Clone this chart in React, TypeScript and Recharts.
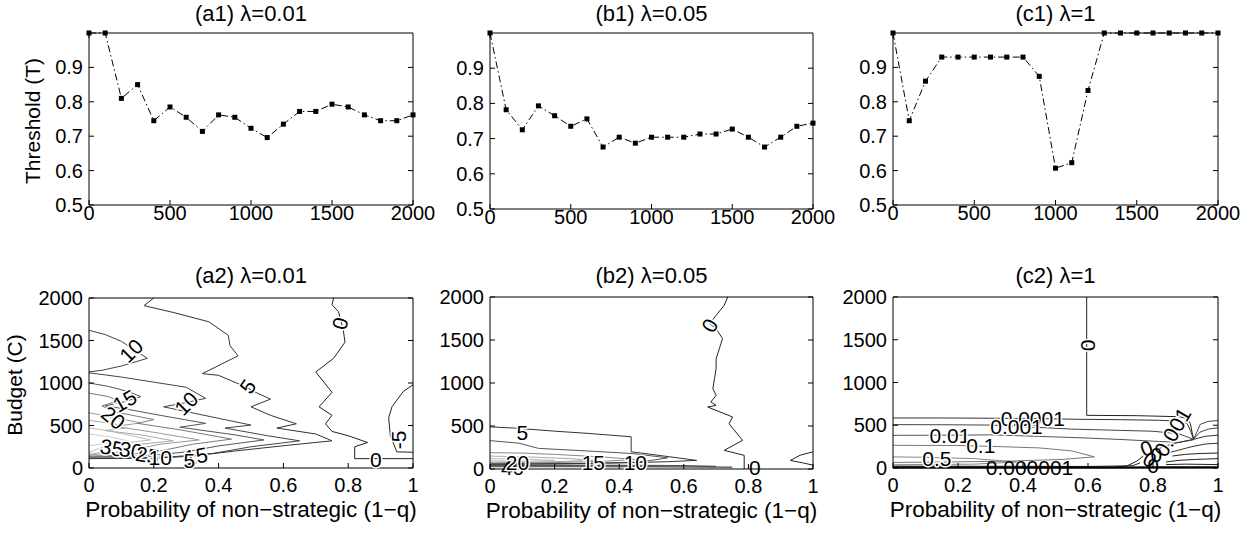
import React from 'react';
import { LineChart, ComposedChart, Line, Scatter, XAxis, YAxis } from 'recharts';

const FONT = '"Liberation Sans", Arial, Helvetica, sans-serif';
const TICK_FS = 20;

// ---------------- data ----------------
const BUDGET = [0, 100, 200, 300, 400, 500, 600, 700, 800, 900, 1000, 1100, 1200, 1300, 1400, 1500, 1600, 1700, 1800, 1900, 2000];
const THRESH_A1 = [1.0, 1.0, 0.81, 0.85, 0.745, 0.785, 0.755, 0.714, 0.762, 0.755, 0.723, 0.696, 0.735, 0.772, 0.772, 0.793, 0.785, 0.762, 0.745, 0.745, 0.762];
const THRESH_B1 = [1.0, 0.782, 0.725, 0.793, 0.765, 0.735, 0.756, 0.676, 0.704, 0.687, 0.704, 0.704, 0.704, 0.713, 0.713, 0.727, 0.704, 0.676, 0.704, 0.735, 0.744];
const THRESH_C1 = [1.0, 0.745, 0.86, 0.93, 0.93, 0.93, 0.93, 0.93, 0.93, 0.874, 0.607, 0.623, 0.833, 1.0, 1.0, 1.0, 1.0, 1.0, 1.0, 1.0, 1.0];

const BUDGET_TICKS = [0, 500, 1000, 1500, 2000];
const THRESH_TICKS = [0.5, 0.6, 0.7, 0.8, 0.9];
const Q_TICKS = [0, 0.2, 0.4, 0.6, 0.8, 1];

const X_LABEL = 'Probability of non\u2212strategic (1\u2212q)';

// contour lines of panel (a2): [q, budget]
const A2_L0 = [[0.755, 2000], [0.75, 1920], [0.77, 1840], [0.785, 1620], [0.79, 1480], [0.755, 1290], [0.70, 1130], [0.725, 1010], [0.75, 890], [0.71, 720], [0.75, 620], [0.73, 520], [0.75, 430], [0.80, 380], [0.86, 300], [0.82, 250], [0.82, 110], [1.0, 110]];
const A2_LM5 = [[1.0, 980], [0.97, 900], [0.935, 720], [0.925, 590], [0.93, 380], [0.95, 190], [1.0, 185]];
const A2_L5 = [[0.2, 2000], [0.17, 1910], [0.26, 1830], [0.37, 1720], [0.43, 1560], [0.435, 1440], [0.46, 1320], [0.35, 1110], [0.40, 1090], [0.48, 960], [0.52, 880], [0.56, 810], [0.50, 720], [0.56, 620], [0.64, 520], [0.58, 470], [0.70, 400], [0.75, 320], [0.62, 270], [0.45, 200], [0.32, 140], [0.2, 115], [0, 110]];
const A2_L10A = [[0, 1620], [0.05, 1570], [0.1, 1490], [0.14, 1390], [0.18, 1290], [0.1, 1200], [0.04, 1150], [0, 1130]];
const A2_L10B = [[0, 1120], [0.1, 1070], [0.2, 1010], [0.3, 950], [0.36, 820], [0.3, 770], [0.23, 720], [0.33, 640], [0.5, 505], [0.42, 470], [0.55, 380], [0.65, 320], [0.5, 250], [0.38, 170], [0.25, 130], [0.1, 120], [0, 118]];
const A2_L15 = [[0, 1000], [0.06, 960], [0.12, 900], [0.16, 840], [0.11, 780], [0.05, 730], [0.12, 690], [0.22, 620], [0.36, 525], [0.28, 480], [0.45, 390], [0.54, 330], [0.4, 260], [0.3, 190], [0.2, 150], [0.1, 135], [0, 130]];
const A2_L20 = [[0, 880], [0.06, 840], [0.09, 790], [0.04, 730], [0.08, 660], [0.2, 570], [0.15, 525], [0.28, 450], [0.44, 340], [0.32, 280], [0.22, 200], [0.1, 150], [0, 140]];
const A2_L25 = [[0, 650], [0.07, 600], [0.16, 530], [0.08, 490], [0.2, 420], [0.34, 330], [0.22, 280], [0.12, 200], [0, 150]];
const A2_L30 = [[0, 560], [0.08, 520], [0.11, 470], [0.05, 440], [0.16, 390], [0.26, 320], [0.16, 280], [0.06, 200], [0, 160]];
const A2_L35 = [[0, 470], [0.05, 445], [0.12, 390], [0.19, 330], [0.1, 290], [0.03, 230], [0, 180]];
const A2_L40 = [[0, 400], [0.06, 370], [0.12, 320], [0.05, 290], [0, 260]];
const A2_LABELS = [
  { x: 0.775, y: 1700, t: '0', r: -75, h: 1 },
  { x: 0.885, y: 105, t: '0', r: 0, h: 1 },
  { x: 0.955, y: 330, t: '-5', r: -90, h: 1 },
  { x: 0.49, y: 960, t: '5', r: -55, h: 1 },
  { x: 0.13, y: 1380, t: '10', r: -45, h: 1 },
  { x: 0.30, y: 760, t: '10', r: -45, h: 1 },
  { x: 0.11, y: 790, t: '15', r: -30, h: 1 },
  { x: 0.075, y: 590, t: '20', r: 40, h: 1 },
  { x: 0.07, y: 240, t: '35', r: 10, h: 1 },
  { x: 0.13, y: 210, t: '30', r: 10, h: 1 },
  { x: 0.18, y: 150, t: '25', r: 10, h: 1 },
  { x: 0.22, y: 125, t: '10', r: 0, h: 1 },
  { x: 0.33, y: 140, t: '15', r: -10, h: 1 },
  { x: 0.31, y: 90, t: '5', r: 0, h: 1 },
];

// contour lines of panel (b2)
const B2_L0 = [[0.736, 2000], [0.725, 1903], [0.70, 1787], [0.68, 1690], [0.70, 1632], [0.72, 1516], [0.71, 1399], [0.70, 1283], [0.70, 1167], [0.695, 1050], [0.69, 934], [0.70, 857], [0.684, 779], [0.70, 740], [0.674, 721], [0.751, 605], [0.74, 527], [0.782, 333], [0.725, 217], [0.787, 159], [0.787, 0]];
const B2_L0B = [[1.0, 200], [0.96, 160], [0.93, 100], [0.97, 70], [1.0, 45]];
const B2_L5 = [[0, 490], [0.08, 475], [0.2, 440], [0.3, 415], [0.437, 375], [0.437, 200], [0.5, 170], [0.58, 130], [0.64, 100], [0.55, 85], [0.4, 70], [0.2, 60], [0, 55]];
const B2_L10 = [[0, 330], [0.09, 300], [0.15, 240], [0.3, 210], [0.44, 180], [0.55, 130], [0.5, 100], [0.45, 80], [0.3, 65], [0, 58]];
const B2_L15 = [[0, 190], [0.1, 185], [0.2, 170], [0.35, 140], [0.45, 110], [0.35, 90], [0.2, 75], [0, 65]];
const B2_L20 = [[0, 150], [0.12, 140], [0.25, 120], [0.32, 100], [0.2, 85], [0, 72]];
const B2_L25 = [[0, 120], [0.1, 115], [0.2, 100], [0.1, 85], [0, 78]];
const B2_L30 = [[0, 100], [0.08, 95], [0.12, 88], [0, 82]];
const B2_L35 = [[0, 45], [0.2, 44], [0.4, 42], [0.6, 38], [0.7, 30]];
const B2_L40 = [[0, 30], [0.3, 28], [0.5, 26], [0.75, 20]];
const B2_LABELS = [
  { x: 0.68, y: 1670, t: '0', r: -60, h: 1 },
  { x: 0.82, y: 15, t: '0', r: 0, h: 0 },
  { x: 0.1, y: 430, t: '5', r: 0, h: 1 },
  { x: 0.07, y: 20, t: '40', r: 0, h: 0 },
  { x: 0.085, y: 70, t: '20', r: 0, h: 1 },
  { x: 0.32, y: 75, t: '15', r: 0, h: 1 },
  { x: 0.45, y: 70, t: '10', r: 0, h: 1 },
];

// contour lines of panel (c2)
const C2_L0 = [[0.596, 2000], [0.596, 616], [0.75, 612], [0.88, 600], [0.905, 580], [0.915, 520], [0.92, 420], [0.925, 340]];
const C2_L1E4 = [[0, 585], [0.15, 585], [0.3, 582], [0.45, 578], [0.56, 570], [0.7, 565], [0.82, 558], [0.88, 548], [0.905, 520], [0.915, 440], [0.925, 335]];
const C2_L1E3 = [[0, 507], [0.15, 506], [0.3, 502], [0.42, 480], [0.55, 455], [0.7, 440], [0.8, 430], [0.88, 400], [0.925, 335]];
const C2_L1E2 = [[0, 382], [0.2, 384], [0.3, 388], [0.45, 370], [0.6, 350], [0.72, 330], [0.82, 310], [0.88, 300], [0.925, 330]];
const C2_L1E1 = [[0, 265], [0.2, 263], [0.33, 250], [0.45, 235], [0.55, 200], [0.62, 130], [0.52, 100], [0.35, 80], [0.15, 70], [0, 65]];
const C2_L05 = [[0, 130], [0.1, 125], [0.25, 110], [0.38, 70], [0.25, 45], [0, 38]];
const C2_B1 = [[0, 22], [0.3, 20], [0.6, 18], [0.72, 25], [0.75, 80], [0.77, 140]];
const C2_B2 = [[0, 12], [0.5, 10], [0.68, 10], [0.74, 30], [0.76, 60]];
const C2_B3 = [[0, 5], [0.7, 5], [0.8, 8], [1, 10]];
const C2_R1 = [[1.0, 555], [0.97, 545], [0.945, 510], [0.935, 420], [0.925, 335]];
const C2_R2 = [[1.0, 470], [0.97, 455], [0.945, 420], [0.93, 360], [0.925, 335]];
const C2_R3 = [[1.0, 385], [0.96, 370], [0.93, 340], [0.88, 300], [0.84, 260], [0.82, 230]];
const C2_R4 = [[1.0, 290], [0.96, 280], [0.92, 250], [0.88, 210], [0.85, 180]];
const C2_R5 = [[1.0, 175], [0.95, 170], [0.9, 160], [0.86, 140]];
const C2_R6 = [[1.0, 110], [0.93, 100], [0.88, 90], [0.84, 70]];
const C2_R7 = [[1.0, 40], [0.9, 45], [0.84, 40]];
const C2_LABELS = [
  { x: 0.6, y: 1435, t: '0', r: 90, h: 1 },
  { x: 0.43, y: 580, t: '0.0001', r: 0, h: 1 },
  { x: 0.38, y: 480, t: '0.001', r: 0, h: 1 },
  { x: 0.175, y: 380, t: '0.01', r: 0, h: 1 },
  { x: 0.27, y: 262, t: '0.1', r: 0, h: 1 },
  { x: 0.135, y: 110, t: '0.5', r: 0, h: 1 },
  { x: 0.42, y: 8, t: '0.000001', r: 0, h: 0 },
  { x: 0.86, y: 420, t: '0.001', r: -60, h: 1 },
  { x: 0.78, y: 230, t: '0', r: -20, h: 0 },
  { x: 0.81, y: 160, t: '0', r: 0, h: 0 },
  { x: 0.79, y: 100, t: '0', r: 30, h: 0 },
  { x: 0.8, y: 30, t: '0', r: 0, h: 0 },
];

// ---------------- helpers ----------------
const toPts = (arr: number[][]) => arr.map(([x, y]) => ({ x, y }));

type Box = { x: number; y: number; w: number; h: number };

const squareDot = (p: any) => (
  <rect key={`d${p.index}`} x={p.cx - 2.5} y={p.cy - 2.5} width={5} height={5} fill="#000" />
);

const contourLabel = (p: any) => {
  const { cx, cy, payload } = p;
  return (
    <text
      x={cx}
      y={cy}
      transform={`rotate(${payload.r} ${cx} ${cy})`}
      textAnchor="middle"
      dominantBaseline="central"
      fontSize={21}
      fontFamily={FONT}
      fill="#000"
      stroke={payload.h ? '#fff' : 'none'}
      strokeWidth={payload.h ? 3 : 0}
      paintOrder="stroke"
      strokeLinejoin="round"
    >
      {payload.t}
    </text>
  );
};

const AXIS_LINE = { stroke: '#000', strokeWidth: 1 };
const MT = 45;

type PanelProps = {
  box: Box;
  titleY: number;
  title: string;
  yLabel?: string;
  yLabelX?: number;
  xLabel?: string;
  children: React.ReactNode;
  xDomain: number[];
  xTicks: number[];
  yDomain: number[];
  yTicks: number[];
  xDy: number;
  kind: 'line' | 'composed';
  data?: any[];
};

function Panel(props: PanelProps) {
  const { box, titleY, title, yLabel, yLabelX, xLabel, children, xDomain, xTicks, yDomain, yTicks, xDy, kind, data } = props;
  const ML = 85;
  const MR = 25;
  const MB = 62;
  const mt = MT;
  const W = ML + box.w + MR;
  const H = mt + box.h + MB;
  const bottomY = mt + box.h;
  const topY = mt;
  const leftX = ML;
  const rightX = ML + box.w;
  const Chart: any = kind === 'line' ? LineChart : ComposedChart;

  const bottomTick = (p: any) => (
    <g key={`b${p.index}`}>
      <line x1={p.x} y1={bottomY} x2={p.x} y2={bottomY - 5} stroke="#000" strokeWidth={1} />
      <text x={p.x} y={bottomY + xDy} textAnchor="middle" fontSize={TICK_FS} fontFamily={FONT} fill="#000">
        {String(p.payload.value)}
      </text>
    </g>
  );
  const topTick = (p: any) => (
    <line key={`t${p.index}`} x1={p.x} y1={topY} x2={p.x} y2={topY + 5} stroke="#000" strokeWidth={1} />
  );
  const leftTick = (p: any) => (
    <g key={`l${p.index}`}>
      <line x1={leftX} y1={p.y} x2={leftX + 5} y2={p.y} stroke="#000" strokeWidth={1} />
      <text x={leftX - 6} y={p.y + 7} textAnchor="end" fontSize={TICK_FS} fontFamily={FONT} fill="#000">
        {String(p.payload.value)}
      </text>
    </g>
  );
  const rightTick = (p: any) => (
    <line key={`r${p.index}`} x1={rightX} y1={p.y} x2={rightX - 5} y2={p.y} stroke="#000" strokeWidth={1} />
  );

  // page y of title baseline -> local
  const tY = titleY - (box.y - mt);
  const titleContent = () => (
    <text x={ML + box.w / 2} y={tY} textAnchor="middle" fontSize={22} fontFamily={FONT} fill="#000">
      {title}
    </text>
  );
  const xLabelContent = () =>
    xLabel ? (
      <text x={ML + box.w / 2} y={bottomY + 49} textAnchor="middle" fontSize={22.5} fontFamily={FONT} fill="#000">
        {xLabel}
      </text>
    ) : null;
  const ylx = ML - (box.x - (yLabelX as number));
  const yLabelContent = () =>
    yLabel ? (
      <text
        x={ylx}
        y={mt + box.h / 2 + 2}
        transform={`rotate(-90 ${ylx} ${mt + box.h / 2 + 2})`}
        textAnchor="middle"
        fontSize={21}
        fontFamily={FONT}
        fill="#000"
      >
        {yLabel}
      </text>
    ) : null;
  return (
    <div style={{ position: 'absolute', left: box.x - ML, top: box.y - mt, width: W, height: H }}>
      <Chart width={W} height={H} data={data} margin={{ top: 0, right: 0, bottom: 0, left: 0 }}>
        <XAxis
          xAxisId="main"
          dataKey="x"
          type="number"
          domain={xDomain}
          ticks={xTicks}
          interval={0}
          height={MB}
          tickSize={0}
          tickMargin={0}
          tickLine={false}
          axisLine={AXIS_LINE}
          tick={bottomTick}
          label={{ content: xLabelContent }}
        />
        <XAxis
          xAxisId="top"
          orientation="top"
          type="number"
          domain={xDomain}
          ticks={xTicks}
          allowDataOverflow
          interval={0}
          height={mt}
          tickSize={0}
          tickMargin={0}
          tickLine={false}
          axisLine={AXIS_LINE}
          tick={topTick}
          label={{ content: titleContent }}
        />
        <YAxis
          yAxisId="main"
          type="number"
          domain={yDomain}
          ticks={yTicks}
          interval={0}
          width={ML}
          tickSize={0}
          tickMargin={0}
          tickLine={false}
          axisLine={AXIS_LINE}
          tick={leftTick}
          label={{ content: yLabelContent }}
        />
        <YAxis
          yAxisId="right"
          orientation="right"
          type="number"
          domain={yDomain}
          ticks={yTicks}
          allowDataOverflow
          interval={0}
          width={MR}
          tickSize={0}
          tickMargin={0}
          tickLine={false}
          axisLine={AXIS_LINE}
          tick={rightTick}
        />
        {children}
      </Chart>
    </div>
  );
}

function ThresholdPanel({ box, title, values, yLabel }: { box: Box; title: string; values: number[]; yLabel?: string }) {
  const data = BUDGET.map((b, i) => ({ x: b, t: values[i] }));
  return (
    <Panel
      box={box}
      titleY={21}
      title={title}
      yLabel={yLabel}
      yLabelX={40}
      kind="line"
      data={data}
      xDomain={[0, 2000]}
      xTicks={BUDGET_TICKS}
      yDomain={[0.5, 1]}
      yTicks={THRESH_TICKS}
      xDy={15}
    >
      <Line
        xAxisId="main"
        yAxisId="main"
        dataKey="t"
        type="linear"
        stroke="#000"
        strokeWidth={1}
        strokeDasharray="7 3 1.5 3"
        dot={squareDot}
        activeDot={false}
        isAnimationActive={false}
      />
    </Panel>
  );
}

type ContourLine = { pts: number[][]; color: string; w?: number };
type ContourLabel = { x: number; y: number; t: string; r: number; h: number };

function ContourPanel({ box, title, lines, labels, yLabel }: { box: Box; title: string; lines: ContourLine[]; labels: ContourLabel[]; yLabel?: string }) {
  return (
    <Panel
      box={box}
      titleY={283}
      title={title}
      yLabel={yLabel}
      yLabelX={22}
      xLabel={X_LABEL}
      kind="composed"
      xDomain={[0, 1]}
      xTicks={Q_TICKS}
      yDomain={[0, 2000]}
      yTicks={BUDGET_TICKS}
      xDy={24}
    >
      {lines.map((ln, i) => (
        <Line
          key={`c${i}`}
          xAxisId="main"
          yAxisId="main"
          data={toPts(ln.pts)}
          dataKey="y"
          type="linear"
          stroke={ln.color}
          strokeWidth={ln.w ?? 1}
          dot={false}
          activeDot={false}
          isAnimationActive={false}
        />
      ))}
      <Scatter xAxisId="main" yAxisId="main" data={labels} dataKey="y" shape={contourLabel} isAnimationActive={false} />
    </Panel>
  );
}

const A2_LINES: ContourLine[] = [
  { pts: A2_L40, color: '#cfcfcf' },
  { pts: A2_L35, color: '#bdbdbd' },
  { pts: A2_L30, color: '#aaaaaa' },
  { pts: A2_L25, color: '#999999' },
  { pts: A2_L20, color: '#7a7a7a' },
  { pts: A2_L15, color: '#555555' },
  { pts: A2_L10A, color: '#444444' },
  { pts: A2_L10B, color: '#444444' },
  { pts: A2_L5, color: '#333333' },
  { pts: A2_L0, color: '#222222' },
  { pts: A2_LM5, color: '#222222' },
];
const B2_LINES: ContourLine[] = [
  { pts: B2_L30, color: '#cfcfcf' },
  { pts: B2_L25, color: '#bbbbbb' },
  { pts: B2_L20, color: '#aaaaaa' },
  { pts: B2_L15, color: '#888888' },
  { pts: B2_L40, color: '#666666', w: 1.5 },
  { pts: B2_L35, color: '#555555', w: 1.5 },
  { pts: B2_L10, color: '#555555' },
  { pts: B2_L5, color: '#333333' },
  { pts: B2_L0, color: '#222222' },
  { pts: B2_L0B, color: '#222222' },
];
const C2_LINES: ContourLine[] = [
  { pts: C2_L05, color: '#888888' },
  { pts: C2_L1E1, color: '#777777' },
  { pts: C2_L1E2, color: '#555555' },
  { pts: C2_L1E3, color: '#444444' },
  { pts: C2_L1E4, color: '#333333' },
  { pts: C2_L0, color: '#222222' },
  { pts: C2_B1, color: '#222222' },
  { pts: C2_B2, color: '#222222' },
  { pts: C2_B3, color: '#000000', w: 2 },
  { pts: C2_R1, color: '#444444' },
  { pts: C2_R2, color: '#444444' },
  { pts: C2_R3, color: '#333333' },
  { pts: C2_R4, color: '#333333' },
  { pts: C2_R5, color: '#222222' },
  { pts: C2_R6, color: '#222222' },
  { pts: C2_R7, color: '#222222' },
];

export default function App() {
  return (
    <div style={{ position: 'absolute', left: 0, top: 0, width: 1256, height: 533, fontFamily: FONT }}>
      <ThresholdPanel box={{ x: 89, y: 33, w: 324, h: 172 }} title={'(a1) \u03bb=0.01'} values={THRESH_A1} yLabel="Threshold (T)" />
      <ThresholdPanel box={{ x: 490, y: 33, w: 323, h: 176 }} title={'(b1) \u03bb=0.05'} values={THRESH_B1} />
      <ThresholdPanel box={{ x: 893, y: 33, w: 325, h: 172 }} title={'(c1) \u03bb=1'} values={THRESH_C1} />
      <ContourPanel box={{ x: 89, y: 298, w: 324, h: 170 }} title={'(a2) \u03bb=0.01'} lines={A2_LINES} labels={A2_LABELS} yLabel="Budget (C)" />
      <ContourPanel box={{ x: 490, y: 297, w: 323, h: 172 }} title={'(b2) \u03bb=0.05'} lines={B2_LINES} labels={B2_LABELS} />
      <ContourPanel box={{ x: 893, y: 297, w: 325, h: 171 }} title={'(c2) \u03bb=1'} lines={C2_LINES} labels={C2_LABELS} />
    </div>
  );
}
